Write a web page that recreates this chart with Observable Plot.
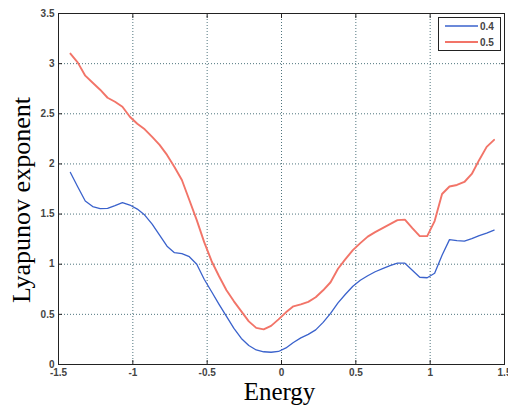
<!DOCTYPE html>
<html>
<head>
<meta charset="utf-8">
<script src="https://cdn.jsdelivr.net/npm/d3@7"></script>
<script src="https://cdn.jsdelivr.net/npm/@observablehq/plot@0.6"></script>
<style>
  html, body { margin: 0; padding: 0; background: #fff; }
  #wrap { position: relative; width: 508px; height: 407px; overflow: hidden; }
  #legend { position: absolute; left: 438px; top: 17px; width: 63px; height: 34px;
    border: 1px solid #222; background: #fff; box-sizing: border-box;
    font-family: "Liberation Sans", Arial, sans-serif; font-size: 10px; font-weight: bold; color: #444; }
  #legend .row { position: absolute; left: 6px; height: 12px; display: flex; align-items: center; }
  #legend .sw { width: 33px; margin-right: 2px; }
</style>
</head>
<body>
<div id="wrap">
  <div id="chart"></div>
  <div id="legend"></div>
</div>
<script>
const energy = [-1.42, -1.37, -1.32, -1.27, -1.22, -1.17, -1.12, -1.07, -1.02, -0.97,
  -0.92, -0.87, -0.82, -0.77, -0.72, -0.67, -0.62, -0.57, -0.52, -0.47,
  -0.42, -0.37, -0.32, -0.27, -0.22, -0.17, -0.12, -0.07, -0.02, 0.03,
  0.08, 0.13, 0.18, 0.23, 0.28, 0.33, 0.38, 0.43, 0.48, 0.53,
  0.58, 0.63, 0.68, 0.73, 0.78, 0.83, 0.88, 0.93, 0.98, 1.03,
  1.08, 1.13, 1.18, 1.23, 1.28, 1.33, 1.38, 1.43];

const lyap04 = [1.915, 1.77, 1.63, 1.575, 1.555, 1.557, 1.585, 1.615, 1.59, 1.55,
  1.49, 1.40, 1.29, 1.18, 1.115, 1.105, 1.075, 1.00, 0.85, 0.725,
  0.60, 0.48, 0.36, 0.26, 0.19, 0.145, 0.127, 0.122, 0.13, 0.165,
  0.22, 0.265, 0.30, 0.345, 0.42, 0.51, 0.615, 0.70, 0.78, 0.84,
  0.885, 0.925, 0.955, 0.985, 1.01, 1.01, 0.94, 0.87, 0.865, 0.91,
  1.09, 1.245, 1.235, 1.23, 1.255, 1.285, 1.31, 1.34];

const lyap05 = [3.10, 3.01, 2.88, 2.81, 2.74, 2.66, 2.62, 2.57, 2.47, 2.40,
  2.345, 2.27, 2.19, 2.09, 1.97, 1.84, 1.64, 1.44, 1.22, 1.03,
  0.88, 0.74, 0.63, 0.53, 0.43, 0.365, 0.35, 0.385, 0.45, 0.52,
  0.58, 0.60, 0.625, 0.67, 0.74, 0.82, 0.955, 1.05, 1.14, 1.21,
  1.275, 1.32, 1.36, 1.40, 1.44, 1.445, 1.36, 1.28, 1.28, 1.43,
  1.70, 1.775, 1.79, 1.82, 1.90, 2.04, 2.17, 2.24];

const seriesNames = ["0.4", "0.5"];
const seriesColors = ["#3a62cc", "#f27468"];
const seriesWidths = [1.3, 1.9];
const xTicks = [-1.5, -1, -0.5, 0, 0.5, 1, 1.5];
const yTicks = [0, 0.5, 1, 1.5, 2, 2.5, 3, 3.5];
const xLabel = "Energy";
const yLabel = "Lyapunov exponent";

const rows = [];
energy.forEach((e, i) => {
  rows.push({energy: e, value: lyap04[i], series: seriesNames[0]});
  rows.push({energy: e, value: lyap05[i], series: seriesNames[1]});
});

const tickFont = {fontFamily: "Liberation Sans, Arial, sans-serif", fontSize: 10, fontWeight: "bold", fill: "#444"};
const gridStyle = {stroke: "#3d6670", strokeOpacity: 0.9, strokeDasharray: "1,2", strokeWidth: 1};

const chart = Plot.plot({
  width: 508,
  height: 407,
  marginTop: 13,
  marginRight: 4,
  marginBottom: 43,
  marginLeft: 58,
  style: {fontFamily: "Liberation Sans, Arial, sans-serif", background: "#fff", overflow: "visible"},
  x: {domain: [-1.5, 1.5]},
  y: {domain: [0, 3.5]},
  marks: [
    Plot.gridX(xTicks, gridStyle),
    Plot.gridY(yTicks, gridStyle),
    Plot.axisX(xTicks, {anchor: "bottom", tickSize: -4, tickPadding: 8, label: null, tickFormat: d => String(d), stroke: "#222", ...tickFont}),
    Plot.axisX(xTicks, {anchor: "top", tickSize: -4, label: null, tickFormat: () => "", stroke: "#222"}),
    Plot.axisY(yTicks, {anchor: "left", tickSize: -4, tickPadding: 8, label: null, tickFormat: d => String(d), stroke: "#222", ...tickFont}),
    Plot.axisY(yTicks, {anchor: "right", tickSize: -4, label: null, tickFormat: () => "", stroke: "#222"}),
    Plot.line(rows.filter(r => r.series === seriesNames[0]), {x: "energy", y: "value", stroke: seriesColors[0], strokeWidth: seriesWidths[0]}),
    Plot.line(rows.filter(r => r.series === seriesNames[1]), {x: "energy", y: "value", stroke: seriesColors[1], strokeWidth: seriesWidths[1]}),
    Plot.frame({stroke: "#222", strokeWidth: 1}),
    Plot.text([xLabel], {frameAnchor: "bottom", dx: -2, dy: 35, lineAnchor: "bottom", fontFamily: "Liberation Serif, Times New Roman, serif", fontSize: 25, fill: "#000"}),
    Plot.text([yLabel], {frameAnchor: "left", rotate: -90, dx: -29, dy: 11, lineAnchor: "bottom", textAnchor: "middle", fontFamily: "Liberation Serif, Times New Roman, serif", fontSize: 26, fill: "#000"})
  ]
});
document.getElementById("chart").appendChild(chart);

const legend = document.getElementById("legend");
seriesNames.forEach((name, i) => {
  const row = document.createElement("div");
  row.className = "row";
  row.style.top = (i === 0 ? 2 : 18) + "px";
  row.innerHTML = `<svg class="sw" width="33" height="12"><line x1="0" x2="33" y1="6" y2="6" stroke="${seriesColors[i]}" stroke-width="${seriesWidths[i]}"/></svg><span>${name}</span>`;
  legend.appendChild(row);
});
</script>
</body>
</html>
